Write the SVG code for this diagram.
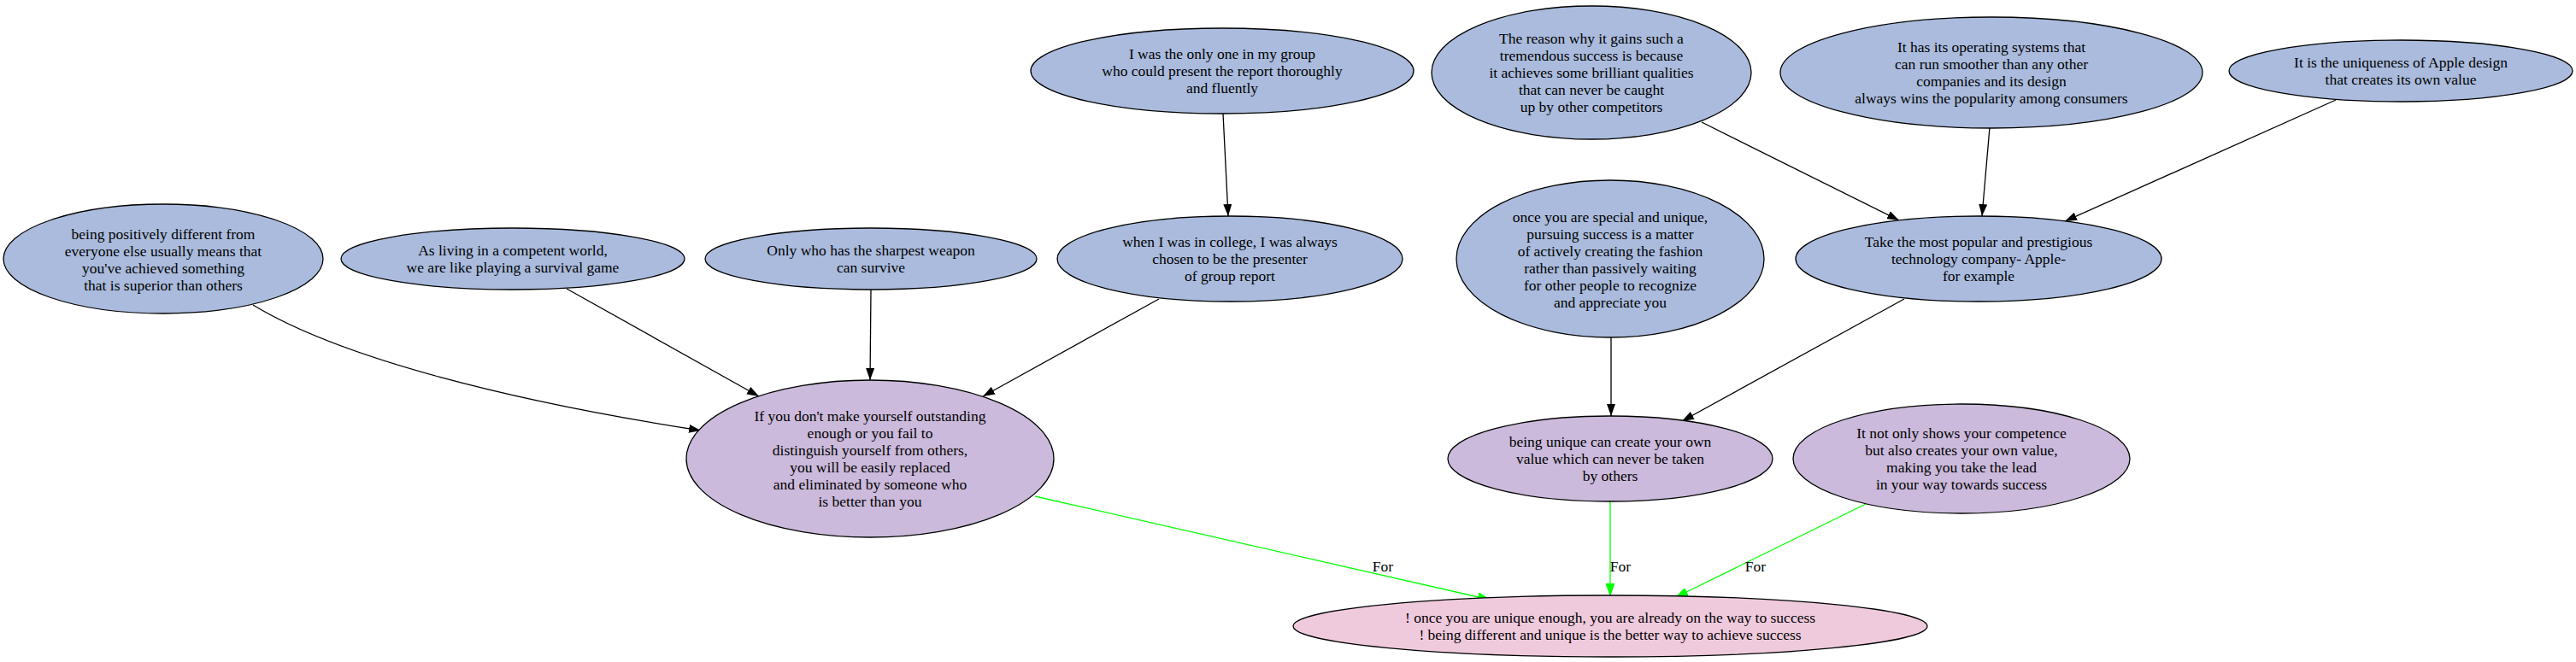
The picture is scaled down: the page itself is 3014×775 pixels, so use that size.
<svg xmlns="http://www.w3.org/2000/svg" width="3014" height="775" viewBox="0 0 3014 775">
<style>
text{font-family:"Liberation Serif","Times New Roman",serif;font-size:17.5px;fill:#000;text-anchor:middle}
.blue{fill:#aabbdd;stroke:#000;stroke-width:1.3}
.purple{fill:#cbbadb;stroke:#000;stroke-width:1.3}
.pink{fill:#efcadd;stroke:#000;stroke-width:1.3}
.e{fill:none;stroke:#000;stroke-width:1.3}
.g{fill:none;stroke:#00ff00;stroke-width:1.3}
</style>
<defs>
<marker id="ab" markerUnits="userSpaceOnUse" markerWidth="14" markerHeight="10" refX="14" refY="5" orient="auto"><path d="M0,0 L14,5 L0,10 z" fill="#000"/></marker>
<marker id="ag" markerUnits="userSpaceOnUse" markerWidth="14" markerHeight="10" refX="14" refY="5" orient="auto"><path d="M0,0 L14,5 L0,10 z" fill="#00ff00" stroke="#00ff00"/></marker>
</defs>
<rect width="3014" height="775" fill="#fff"/>
<g id="edges">
<path class="e" marker-end="url(#ab)" d="M1431,133 L1437,253"/>
<path class="e" marker-end="url(#ab)" d="M296,357 C400,420 600,470 820,504"/>
<path class="e" marker-end="url(#ab)" d="M663,338 L888,464"/>
<path class="e" marker-end="url(#ab)" d="M1019,339 L1018,445"/>
<path class="e" marker-end="url(#ab)" d="M1356,350 L1150,464"/>
<path class="e" marker-end="url(#ab)" d="M1991,143 L2222,258"/>
<path class="e" marker-end="url(#ab)" d="M2328,149 L2319,253"/>
<path class="e" marker-end="url(#ab)" d="M2733,117 L2416,259"/>
<path class="e" marker-end="url(#ab)" d="M1885,395 L1885,487"/>
<path class="e" marker-end="url(#ab)" d="M2228,350 L1968,493"/>
<path class="g" marker-end="url(#ag)" d="M1211,581 L1743,702"/>
<path class="g" marker-end="url(#ag)" d="M1884,587 L1884,697"/>
<path class="g" marker-end="url(#ag)" d="M2183,590 L1961,699"/>
<text x="1618" y="669">For</text>
<text x="1896" y="669">For</text>
<text x="2054" y="669">For</text>
</g>
<g id="nA"><ellipse class="blue" cx="191" cy="303" rx="187" ry="64"/>
<text x="191" y="280">being positively different from</text><text x="191" y="300">everyone else usually means that</text><text x="191" y="320">you've achieved something</text><text x="191" y="340">that is superior than others</text></g>
<g id="nB"><ellipse class="blue" cx="600" cy="303" rx="201" ry="36"/>
<text x="600" y="299">As living in a competent world,</text><text x="600" y="319">we are like playing a survival game</text></g>
<g id="nC"><ellipse class="blue" cx="1019" cy="303" rx="194" ry="36"/>
<text x="1019" y="299">Only who has the sharpest weapon</text><text x="1019" y="319">can survive</text></g>
<g id="nD"><ellipse class="blue" cx="1439" cy="303" rx="202" ry="50"/>
<text x="1439" y="289">when I was in college, I was always</text><text x="1439" y="309">chosen to be the presenter</text><text x="1439" y="329">of group report</text></g>
<g id="nE"><ellipse class="blue" cx="1430" cy="83" rx="224" ry="50"/>
<text x="1430" y="69">I was the only one in my group</text><text x="1430" y="89">who could present the report thoroughly</text><text x="1430" y="109">and fluently</text></g>
<g id="nF"><ellipse class="blue" cx="1862" cy="85" rx="187" ry="78"/>
<text x="1862" y="51">The reason why it gains such a</text><text x="1862" y="71">tremendous success is because</text><text x="1862" y="91">it achieves some brilliant qualities</text><text x="1862" y="111">that can never be caught</text><text x="1862" y="131">up by other competitors</text></g>
<g id="nG"><ellipse class="blue" cx="2330" cy="85" rx="247" ry="65"/>
<text x="2330" y="61">It has its operating systems that</text><text x="2330" y="81">can run smoother than any other</text><text x="2330" y="101">companies and its design</text><text x="2330" y="121">always wins the popularity among consumers</text></g>
<g id="nH"><ellipse class="blue" cx="2809" cy="83" rx="201" ry="36"/>
<text x="2809" y="79">It is the uniqueness of Apple design</text><text x="2809" y="99">that creates its own value</text></g>
<g id="nI"><ellipse class="blue" cx="2315" cy="303" rx="214" ry="50"/>
<text x="2315" y="289">Take the most popular and prestigious</text><text x="2315" y="309">technology company- Apple-</text><text x="2315" y="329">for example</text></g>
<g id="nJ"><ellipse class="blue" cx="1884" cy="303" rx="180" ry="92"/>
<text x="1884" y="260">once you are special and unique,</text><text x="1884" y="280">pursuing success is a matter</text><text x="1884" y="300">of actively creating the fashion</text><text x="1884" y="320">rather than passively waiting</text><text x="1884" y="340">for other people to recognize</text><text x="1884" y="360">and appreciate you</text></g>
<g id="nK"><ellipse class="purple" cx="1018" cy="537" rx="215" ry="92"/>
<text x="1018" y="493">If you don't make yourself outstanding</text><text x="1018" y="513">enough or you fail to</text><text x="1018" y="533">distinguish yourself from others,</text><text x="1018" y="553">you will be easily replaced</text><text x="1018" y="573">and eliminated by someone who</text><text x="1018" y="593">is better than you</text></g>
<g id="nL"><ellipse class="purple" cx="1884" cy="537" rx="190" ry="50"/>
<text x="1884" y="523">being unique can create your own</text><text x="1884" y="543">value which can never be taken</text><text x="1884" y="563">by others</text></g>
<g id="nM"><ellipse class="purple" cx="2295" cy="537" rx="197" ry="64"/>
<text x="2295" y="513">It not only shows your competence</text><text x="2295" y="533">but also creates your own value,</text><text x="2295" y="553">making you take the lead</text><text x="2295" y="573">in your way towards success</text></g>
<g id="nN"><ellipse class="pink" cx="1884" cy="733" rx="371" ry="36"/>
<text x="1884" y="729">! once you are unique enough, you are already on the way to success</text><text x="1884" y="749">! being different and unique is the better way to achieve success</text></g>
</svg>
